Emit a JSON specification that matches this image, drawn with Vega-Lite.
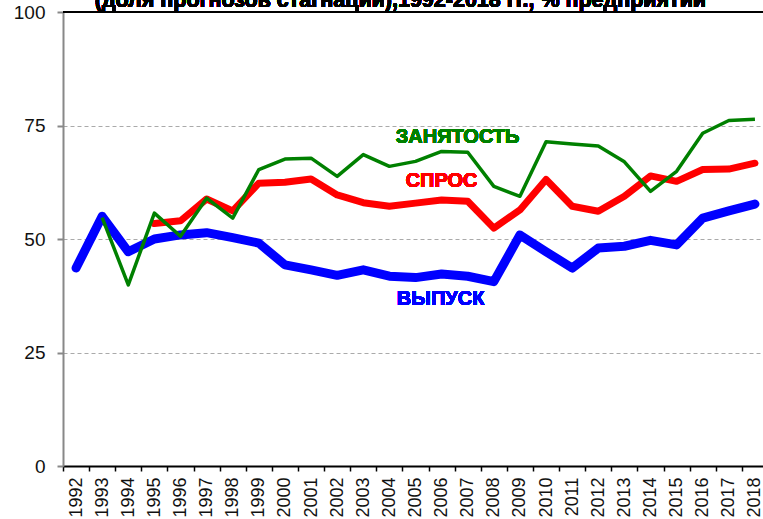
{
  "$schema": "https://vega.github.io/schema/vega-lite/v6.json",
  "width": 705,
  "height": 454,
  "autosize": {"type": "none"},
  "padding": {"left": 63, "top": 12, "right": 0, "bottom": 53},
  "background": "white",
  "config": {
    "view": {"stroke": null},
    "font": "Liberation Sans"
  },
  "data": {
    "values": [
      {"year": "1992", "out": 43.6, "dem": null, "emp": null},
      {"year": "1993", "out": 55.0, "dem": null, "emp": 54.7},
      {"year": "1994", "out": 47.2, "dem": null, "emp": 39.9},
      {"year": "1995", "out": 50.0, "dem": 53.4, "emp": 55.7},
      {"year": "1996", "out": 50.9, "dem": 54.0, "emp": 50.6},
      {"year": "1997", "out": 51.4, "dem": 58.8, "emp": 59.0},
      {"year": "1998", "out": 50.3, "dem": 56.2, "emp": 54.6},
      {"year": "1999", "out": 49.1, "dem": 62.3, "emp": 65.3},
      {"year": "2000", "out": 44.3, "dem": 62.5, "emp": 67.6},
      {"year": "2001", "out": 43.2, "dem": 63.2, "emp": 67.8},
      {"year": "2002", "out": 42.0, "dem": 59.7, "emp": 63.8},
      {"year": "2003", "out": 43.2, "dem": 58.0, "emp": 68.6},
      {"year": "2004", "out": 41.8, "dem": 57.2, "emp": 66.0},
      {"year": "2005", "out": 41.5, "dem": 57.9, "emp": 67.1},
      {"year": "2006", "out": 42.3, "dem": 58.6, "emp": 69.3},
      {"year": "2007", "out": 41.8, "dem": 58.3, "emp": 69.1},
      {"year": "2008", "out": 40.6, "dem": 52.4, "emp": 61.6},
      {"year": "2009", "out": 50.9, "dem": 56.4, "emp": 59.4},
      {"year": "2010", "out": 47.2, "dem": 63.1, "emp": 71.4},
      {"year": "2011", "out": 43.6, "dem": 57.2, "emp": 70.9},
      {"year": "2012", "out": 48.0, "dem": 56.1, "emp": 70.5},
      {"year": "2013", "out": 48.4, "dem": 59.4, "emp": 67.0},
      {"year": "2014", "out": 49.7, "dem": 63.9, "emp": 60.5},
      {"year": "2015", "out": 48.7, "dem": 62.7, "emp": 64.9},
      {"year": "2016", "out": 54.6, "dem": 65.3, "emp": 73.3},
      {"year": "2017", "out": 56.2, "dem": 65.4, "emp": 76.1},
      {"year": "2018", "out": 57.7, "dem": 66.7, "emp": 76.4}
    ]
  },
  "encoding": {
    "x": {
      "field": "year",
      "type": "ordinal",
      "scale": {"paddingInner": 0, "paddingOuter": 0},
      "axis": {
        "title": null,
        "labelAngle": -90,
        "labelAlign": "right",
        "labelBaseline": "middle",
        "labelFontSize": 18,
        "labelColor": "#111",
        "labelPadding": 6,
        "domainColor": "black",
        "domainWidth": 2,
        "tickColor": "black",
        "tickWidth": 1.5,
        "tickSize": 5,
        "tickBand": "extent",
        "grid": false
      }
    },
    "y": {
      "type": "quantitative",
      "scale": {"domain": [0, 100], "nice": false},
      "axis": {
        "title": null,
        "values": [0, 25, 50, 75, 100],
        "labelFontSize": 19,
        "labelColor": "#111",
        "labelPadding": 12,
        "domainColor": "#888",
        "domainWidth": 2,
        "tickColor": "#888",
        "tickWidth": 2,
        "tickSize": 6,
        "grid": true,
        "gridColor": "#aaa",
        "gridDash": [4, 3],
        "gridWidth": 1
      }
    }
  },
  "layer": [
    {
      "mark": {"type": "line", "color": "#0000FF", "strokeWidth": 9, "strokeCap": "round", "strokeJoin": "round"},
      "encoding": {"y": {"field": "out", "type": "quantitative"}}
    },
    {
      "mark": {"type": "line", "color": "#FF0000", "strokeWidth": 7, "strokeCap": "round", "strokeJoin": "round"},
      "encoding": {"y": {"field": "dem", "type": "quantitative"}}
    },
    {
      "mark": {"type": "line", "color": "#008000", "strokeWidth": 3.5, "strokeJoin": "round"},
      "encoding": {"y": {"field": "emp", "type": "quantitative"}}
    },
    {
      "mark": {"type": "rule", "color": "black", "strokeWidth": 2},
      "encoding": {"y": {"datum": 100}, "x": {"value": 0}, "x2": {"value": 705}}
    },
    {
      "mark": {"type": "text", "text": "(доля прогнозов стагнации),1992-2018 гг., % предприятий", "color": "black", "fontSize": 21.5, "fontWeight": "bold", "align": "center", "baseline": "alphabetic", "dx": 11},
      "encoding": {"x": {"datum": "2004", "type": "ordinal"}, "y": {"datum": 101.1}}
    },
    {
      "mark": {"type": "text", "text": "ЗАНЯТОСТЬ", "color": "#008000", "fontSize": 20, "fontWeight": "bold", "align": "center", "baseline": "middle", "dx": 16},
      "encoding": {"x": {"datum": "2006", "type": "ordinal"}, "y": {"datum": 72.5}}
    },
    {
      "mark": {"type": "text", "text": "СПРОС", "color": "#FF0000", "fontSize": 20, "fontWeight": "bold", "align": "center", "baseline": "middle", "dx": 0},
      "encoding": {"x": {"datum": "2006", "type": "ordinal"}, "y": {"datum": 62.7}}
    },
    {
      "mark": {"type": "text", "text": "ВЫПУСК", "color": "#0000FF", "fontSize": 20, "fontWeight": "bold", "align": "center", "baseline": "middle", "dx": -1},
      "encoding": {"x": {"datum": "2006", "type": "ordinal"}, "y": {"datum": 36.8}}
    }
  ]
}
